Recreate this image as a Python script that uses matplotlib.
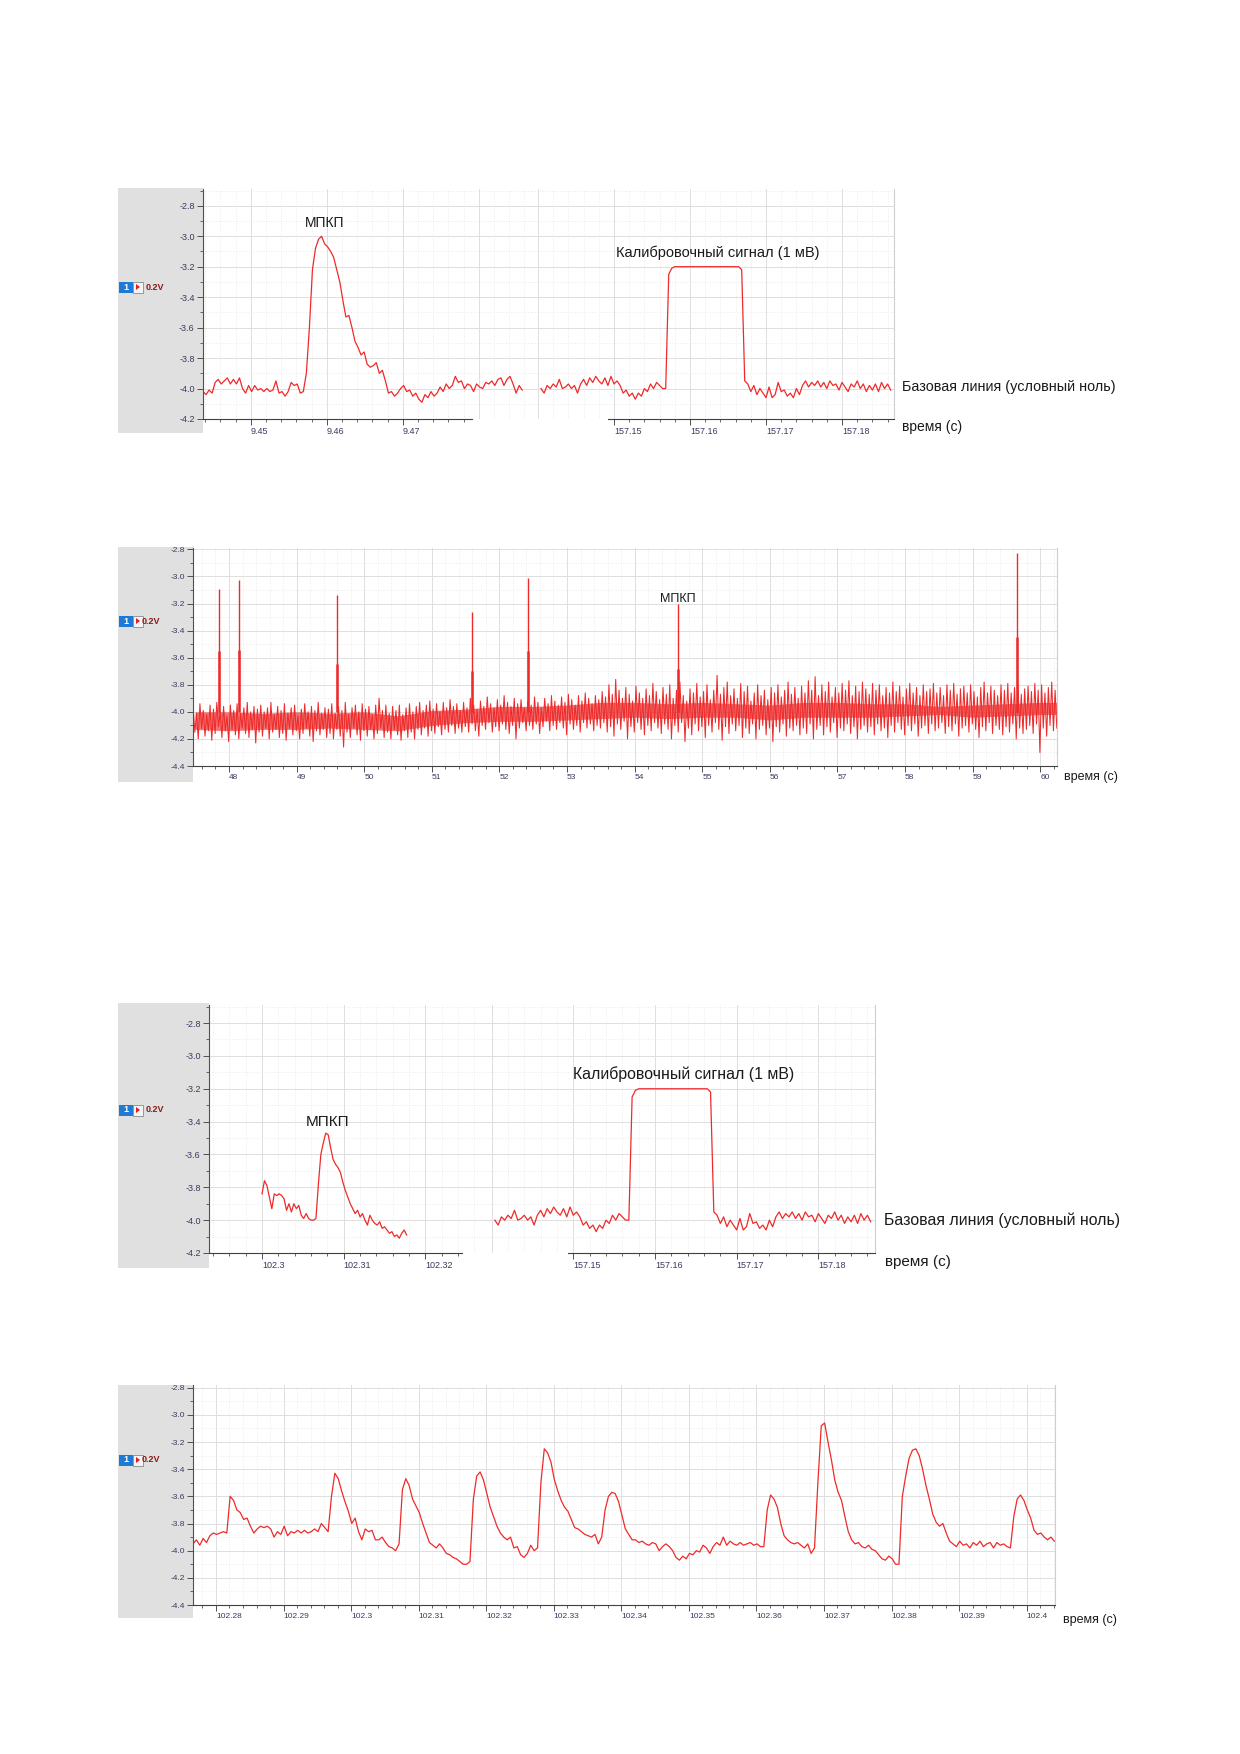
import numpy as np
import matplotlib
matplotlib.use("Agg")
import matplotlib.pyplot as plt
from matplotlib.patches import Rectangle, Polygon

W, H = 1240, 1754

# --- panel 1, left: single MEPP (s, V), sampled every P1_DT
P1_T0, P1_DT = 9.4437, 0.0004
p1_mepp = [
    -4.02, -4.04, -4.01, -4.03, -3.96, -3.94, -3.97, -3.95, -3.93, -3.97,
    -3.94, -3.97, -3.93, -4.00, -4.03, -3.98, -4.02, -3.98, -4.01, -4.00,
    -4.02, -4.00, -4.02, -4.01, -3.95, -4.03, -4.02, -4.05, -4.02, -3.96,
    -3.98, -3.97, -4.03, -4.02, -3.90, -3.60, -3.22, -3.08, -3.02, -3.00,
    -3.05, -3.07, -3.10, -3.14, -3.22, -3.30, -3.42, -3.53, -3.52, -3.60,
    -3.69, -3.73, -3.78, -3.76, -3.84, -3.86, -3.85, -3.83, -3.90, -3.88,
    -3.95, -4.03, -4.02, -4.05, -4.03, -4.00, -3.98, -4.02, -4.01, -4.05,
    -4.03, -4.07, -4.09, -4.04, -4.06, -4.02, -4.05, -4.03, -3.99, -4.02,
    -3.97, -4.00, -3.98, -3.92, -3.96, -3.95, -4.00, -3.97, -3.98, -4.02,
    -3.97, -3.99, -4.00, -3.96, -3.97, -3.95, -3.98, -3.94, -3.93, -3.98,
    -3.94, -3.92, -3.97, -4.03, -3.98, -4.01,
]

# --- calibration pulse (panels 1 and 3, right part)
CAL_T0, CAL_DT = 157.1404, 0.0004
cal_signal = [
    -4.00, -4.03, -3.98, -4.00, -3.97, -3.99, -3.94, -4.00, -3.99, -3.97,
    -4.00, -3.98, -4.03, -3.97, -3.94, -3.98, -3.93, -3.96, -3.92, -3.95,
    -3.97, -3.93, -3.98, -3.92, -3.97, -3.95, -3.98, -4.03, -4.01, -4.05,
    -4.03, -4.07, -4.03, -4.05, -4.00, -4.02, -3.97, -4.00, -3.96, -3.98,
    -4.00, -4.00, -3.25, -3.21, -3.20, -3.20, -3.20, -3.20, -3.20, -3.20,
    -3.20, -3.20, -3.20, -3.20, -3.20, -3.20, -3.20, -3.20, -3.20, -3.20,
    -3.20, -3.20, -3.20, -3.20, -3.20, -3.20, -3.22, -3.95, -3.97, -4.02,
    -3.98, -4.04, -4.00, -4.03, -4.06, -3.99, -4.06, -4.04, -3.96, -4.02,
    -4.01, -4.05, -4.03, -4.06, -4.00, -4.04, -3.98, -3.95, -3.99, -3.96,
    -3.98, -3.95, -3.99, -3.96, -4.00, -3.95, -3.98, -3.97, -4.01, -3.96,
    -3.99, -4.02, -3.97, -3.99, -3.95, -4.00, -3.97, -4.02, -3.98, -4.01,
    -3.97, -4.02, -3.96, -4.00, -3.97, -4.01,
]

# --- panel 2: 13 s record, noise band read as peak / trough every 0.05 s
P2_T0, P2_DT = 47.47, 0.05
p2_peaks = [
    -3.97, -4.01, -3.94, -3.99, -4.02, -3.95, -3.98, -3.93, -4.00, -3.96,
    -4.03, -3.95, -3.99, -3.94, -4.01, -3.97, -3.93, -4.00, -3.96, -3.98,
    -3.95, -4.00, -3.97, -3.93, -4.02, -3.96, -3.99, -3.94, -4.01, -3.97,
    -3.95, -4.03, -3.98, -3.94, -4.00, -3.96, -3.99, -3.93, -4.01, -3.97,
    -3.98, -3.94, -4.01, -3.96, -3.99, -3.93, -4.02, -3.97, -3.95, -4.00,
    -3.94, -3.98, -3.96, -4.02, -3.95, -3.90, -3.99, -3.95, -4.01, -3.96,
    -3.99, -3.95, -4.02, -3.97, -3.94, -4.00, -3.96, -3.93, -3.99, -3.95,
    -3.92, -3.98, -3.94, -4.00, -3.93, -3.97, -3.91, -3.96, -3.94, -3.99,
    -3.93, -3.97, -3.90, -3.95, -3.98, -3.92, -3.96, -3.89, -3.94, -3.97,
    -3.91, -3.95, -3.88, -3.93, -3.96, -3.90, -3.94, -3.91, -3.97, -3.92,
    -3.95, -3.89, -3.93, -3.97, -3.90, -3.94, -3.88, -3.92, -3.95, -3.89,
    -3.93, -3.87, -3.91, -3.95, -3.88, -3.92, -3.86, -3.90, -3.94, -3.88,
    -3.91, -3.85, -3.89, -3.80, -3.87, -3.76, -3.84, -3.90, -3.82, -3.87,
    -3.92, -3.81, -3.86, -3.90, -3.83, -3.88, -3.79, -3.85, -3.91, -3.82,
    -3.87, -3.80, -3.90, -3.84, -3.78, -3.88, -3.92, -3.83, -3.86, -3.79,
    -3.89, -3.85, -3.80, -3.91, -3.84, -3.73, -3.87, -3.82, -3.78, -3.88,
    -3.83, -3.90, -3.79, -3.85, -3.81, -3.92, -3.86, -3.80, -3.88, -3.84,
    -3.91, -3.82, -3.86, -3.80, -3.89, -3.84, -3.78, -3.87, -3.82, -3.90,
    -3.81, -3.86, -3.77, -3.84, -3.74, -3.88, -3.80, -3.85, -3.78, -3.89,
    -3.82, -3.86, -3.79, -3.84, -3.77, -3.88, -3.81, -3.85, -3.78, -3.83,
    -3.87, -3.79, -3.84, -3.80, -3.88, -3.82, -3.86, -3.78, -3.85, -3.81,
    -3.89, -3.83, -3.79, -3.86, -3.82, -3.88, -3.80, -3.85, -3.83, -3.79,
    -3.86, -3.82, -3.88, -3.80, -3.84, -3.79, -3.87, -3.83, -3.81, -3.86,
    -3.80, -3.85, -3.89, -3.82, -3.78, -3.86, -3.81, -3.84, -3.88, -3.80,
    -3.84, -3.79, -3.86, -3.82, -3.80, -3.87, -3.83, -3.81, -3.85, -3.79,
    -3.84, -3.80, -3.86, -3.82, -3.78, -3.84,
]
p2_troughs = [
    -4.15, -4.20, -4.12, -4.18, -4.14, -4.21, -4.16, -4.11, -4.19, -4.14,
    -4.22, -4.13, -4.17, -4.20, -4.12, -4.16, -4.19, -4.13, -4.23, -4.15,
    -4.18, -4.12, -4.20, -4.15, -4.13, -4.19, -4.16, -4.21, -4.12, -4.17,
    -4.14, -4.20, -4.16, -4.12, -4.18, -4.22, -4.14, -4.17, -4.13, -4.19,
    -4.16, -4.20, -4.13, -4.18, -4.26, -4.15, -4.19, -4.12, -4.17, -4.21,
    -4.14, -4.18, -4.13, -4.20, -4.16, -4.12, -4.19, -4.15, -4.20, -4.13,
    -4.17, -4.21, -4.14, -4.19, -4.15, -4.20, -4.13, -4.17, -4.12, -4.18,
    -4.14, -4.16, -4.11, -4.17, -4.13, -4.15, -4.10, -4.16, -4.12, -4.15,
    -4.11, -4.15, -4.09, -4.14, -4.18, -4.10, -4.13, -4.08, -4.15, -4.11,
    -4.14, -4.09, -4.13, -4.16, -4.10, -4.20, -4.12, -4.08, -4.14, -4.10,
    -4.13, -4.09, -4.16, -4.11, -4.07, -4.14, -4.10, -4.13, -4.08, -4.12,
    -4.17, -4.09, -4.13, -4.10, -4.15, -4.08, -4.12, -4.09, -4.14, -4.10,
    -4.12, -4.08, -4.15, -4.11, -4.18, -4.09, -4.13, -4.07, -4.20, -4.11,
    -4.15, -4.08, -4.13, -4.17, -4.10, -4.14, -4.08, -4.12, -4.16, -4.09,
    -4.13, -4.20, -4.10, -4.15, -4.08, -4.22, -4.12, -4.17, -4.09, -4.14,
    -4.11, -4.19, -4.10, -4.15, -4.08, -4.13, -4.21, -4.11, -4.16, -4.09,
    -4.14, -4.10, -4.19, -4.12, -4.16, -4.09, -4.20, -4.13, -4.10, -4.17,
    -4.12, -4.22, -4.11, -4.15, -4.09, -4.18, -4.12, -4.14, -4.10, -4.17,
    -4.12, -4.16, -4.09, -4.20, -4.13, -4.10, -4.17, -4.11, -4.15, -4.08,
    -4.19, -4.12, -4.14, -4.09, -4.16, -4.11, -4.20, -4.13, -4.10, -4.15,
    -4.11, -4.17, -4.09, -4.14, -4.12, -4.19, -4.10, -4.15, -4.08, -4.13,
    -4.17, -4.10, -4.14, -4.09, -4.18, -4.12, -4.10, -4.16, -4.09, -4.14,
    -4.12, -4.08, -4.16, -4.11, -4.14, -4.09, -4.18, -4.12, -4.10, -4.15,
    -4.09, -4.13, -4.19, -4.11, -4.14, -4.08, -4.16, -4.10, -4.13, -4.17,
    -4.11, -4.15, -4.09, -4.20, -4.12, -4.16, -4.13, -4.10, -4.16, -4.09,
    -4.30, -4.12, -4.18, -4.10, -4.14, -4.12,
]
# dense core of the band, every 0.5 s
p2_core_t = [47.5, 48.0, 48.5, 49.0, 49.5, 50.0, 50.5, 51.0, 51.5, 52.0, 52.5,
             53.0, 53.5, 54.0, 54.5, 55.0, 55.5, 56.0, 56.5, 57.0, 57.5, 58.0,
             58.5, 59.0, 59.5, 60.0, 60.5]
p2_core_hi = [-4.00, -4.00, -4.01, -4.00, -4.01, -4.00, -4.03, -3.99, -3.98, -3.96,
              -3.96, -3.95, -3.93, -3.93, -3.94, -3.93, -3.94, -3.95, -3.93, -3.93,
              -3.94, -3.94, -3.96, -3.95, -3.94, -3.93, -3.93]
p2_core_lo = [-4.13, -4.14, -4.13, -4.13, -4.12, -4.13, -4.14, -4.10, -4.08, -4.07,
              -4.07, -4.06, -4.05, -4.04, -4.05, -4.04, -4.04, -4.06, -4.04, -4.04,
              -4.04, -4.03, -4.02, -4.04, -4.03, -4.02, -4.02]
# MEPP spikes
spike_t = [47.85, 48.15, 49.6, 51.6, 52.43, 54.64, 59.65]
spike_top = [-3.09, -3.03, -3.14, -3.26, -3.01, -3.20, -2.83]
spike_mid = [-3.55, -3.54, -3.65, -3.70, -3.55, -3.68, -3.45]

# --- panel 3, left: MEPP
P3_T0, P3_DT = 102.300, 0.0003
p3_mepp = [
    -3.84, -3.76, -3.79, -3.86, -3.93, -3.84, -3.85, -3.84, -3.85, -3.87,
    -3.94, -3.90, -3.95, -3.90, -3.93, -3.91, -3.97, -3.99, -3.96, -3.99,
    -4.00, -4.00, -3.99, -3.78, -3.60, -3.53, -3.47, -3.48, -3.56, -3.63,
    -3.66, -3.68, -3.71, -3.77, -3.82, -3.86, -3.90, -3.93, -3.96, -3.94,
    -3.98, -3.96, -4.00, -4.03, -3.97, -4.00, -4.02, -4.03, -4.01, -4.05,
    -4.04, -4.06, -4.08, -4.07, -4.10, -4.09, -4.11, -4.08, -4.06, -4.09,
]

# --- panel 4: MEPP train
P4_T0, P4_DT = 102.2766, 0.0005
p4_train = [
    -3.95, -3.92, -3.96, -3.91, -3.94, -3.89, -3.87, -3.88, -3.87, -3.86,
    -3.87, -3.60, -3.63, -3.70, -3.72, -3.77, -3.76, -3.82, -3.87, -3.84,
    -3.82, -3.83, -3.82, -3.84, -3.90, -3.86, -3.88, -3.82, -3.89, -3.86,
    -3.87, -3.85, -3.87, -3.85, -3.87, -3.86, -3.84, -3.86, -3.80, -3.83,
    -3.86, -3.60, -3.43, -3.47, -3.56, -3.64, -3.71, -3.80, -3.76, -3.86,
    -3.92, -3.84, -3.86, -3.85, -3.92, -3.92, -3.90, -3.94, -3.97, -3.98,
    -4.00, -3.95, -3.55, -3.47, -3.52, -3.62, -3.67, -3.72, -3.80, -3.87,
    -3.94, -3.96, -3.98, -3.95, -3.98, -4.02, -4.03, -4.05, -4.06, -4.08,
    -4.10, -4.10, -4.08, -3.62, -3.45, -3.42, -3.48, -3.58, -3.68, -3.75,
    -3.82, -3.87, -3.90, -3.92, -3.90, -3.98, -3.97, -4.03, -4.05, -4.02,
    -3.96, -4.00, -3.98, -3.50, -3.25, -3.28, -3.35, -3.48, -3.56, -3.63,
    -3.68, -3.71, -3.77, -3.83, -3.84, -3.86, -3.88, -3.89, -3.90, -3.88,
    -3.95, -3.90, -3.70, -3.60, -3.57, -3.58, -3.64, -3.74, -3.84, -3.88,
    -3.92, -3.92, -3.94, -3.93, -3.95, -3.96, -3.94, -3.95, -4.00, -3.97,
    -3.95, -3.97, -4.00, -4.05, -4.07, -4.04, -4.06, -4.02, -4.03, -4.00,
    -4.01, -3.96, -3.98, -4.02, -3.97, -3.94, -3.96, -3.90, -3.96, -3.93,
    -3.95, -3.96, -3.94, -3.96, -3.95, -3.94, -3.96, -3.95, -3.97, -3.97,
    -3.70, -3.59, -3.62, -3.68, -3.80, -3.89, -3.92, -3.94, -3.95, -3.94,
    -3.96, -3.98, -3.95, -4.02, -3.98, -3.50, -3.08, -3.06, -3.20, -3.33,
    -3.48, -3.57, -3.63, -3.75, -3.86, -3.92, -3.95, -3.94, -3.97, -3.98,
    -3.96, -3.99, -4.00, -4.03, -4.06, -4.07, -4.04, -4.06, -4.10, -4.10,
    -3.60, -3.45, -3.32, -3.26, -3.25, -3.30, -3.40, -3.52, -3.62, -3.73,
    -3.79, -3.82, -3.80, -3.87, -3.93, -3.95, -3.97, -3.93, -3.96, -3.95,
    -3.98, -3.94, -3.96, -3.93, -3.97, -3.95, -3.94, -3.98, -3.94, -3.96,
    -3.95, -3.97, -3.98, -3.75, -3.62, -3.59, -3.63, -3.70, -3.76, -3.85,
    -3.88, -3.87, -3.90, -3.92, -3.90, -3.93,
]

TRACE = "#ee2a2a"
TXT = "#1a1a1a"
plt.rcParams["font.family"] = ["Liberation Sans", "DejaVu Sans"]


def px_rect(x0, y0, x1, y1):
    return [x0 / W, 1 - y1 / H, (x1 - x0) / W, (y1 - y0) / H]


def side_strip(fig, x0, y0, x1, y1, by, vx):
    fig.add_artist(Rectangle((x0 / W, 1 - y1 / H), (x1 - x0) / W, (y1 - y0) / H,
                             transform=fig.transFigure, facecolor="#e0e0e0",
                             edgecolor="none", zorder=-1))
    bx = 119
    fig.add_artist(Rectangle((bx / W, 1 - (by + 5.5) / H), 14 / W, 11 / H,
                             transform=fig.transFigure, facecolor="#1f7ad6",
                             edgecolor="none"))
    fig.text((bx + 7) / W, 1 - by / H, "1", color="white", fontsize=6.5,
             fontweight="bold", ha="center", va="center")
    fig.add_artist(Rectangle(((bx + 14) / W, 1 - (by + 5.5) / H), 10 / W, 11 / H,
                             transform=fig.transFigure, facecolor="#f4f4f4",
                             edgecolor="#8a8a8a", lw=0.6))
    tri = [((bx + 17) / W, 1 - (by - 3) / H), ((bx + 17) / W, 1 - (by + 3) / H),
           ((bx + 21) / W, 1 - by / H)]
    fig.add_artist(Polygon(tri, closed=True, transform=fig.transFigure,
                           facecolor="#e02020", edgecolor="none"))
    fig.text(vx / W, 1 - by / H, "0.2V", color="#8b1a1a", fontsize=6.5,
             fontweight="bold", ha="left", va="center")


def setup(ax, xlim, ylim, xmaj, xmin_, ymaj, ymin_, show_y=True, fs=6.5):
    ax.set_xticks(xmaj)
    ax.set_xticks(xmin_, minor=True)
    ax.set_yticks(ymaj)
    ax.set_yticks(ymin_, minor=True)
    ax.set_xticklabels(["%g" % v for v in xmaj])
    ax.set_yticklabels(["%.1f" % v for v in ymaj])
    # limits after the ticks, so set_xticks cannot widen them
    ax.set_xlim(*xlim)
    ax.set_ylim(*ylim)
    ax.grid(which="major", color="#dedede", lw=0.7)
    ax.grid(which="minor", color="#e6e6e6", lw=0.6, ls=(0, (1, 2)))
    ax.set_axisbelow(True)
    ax.tick_params(which="both", direction="out", colors="#505050",
                   labelcolor="#3a3a60", labelsize=fs, pad=2)
    ax.tick_params(which="major", length=4, width=0.7)
    ax.tick_params(which="minor", length=2.5, width=0.6)
    ax.spines["top"].set_visible(False)
    ax.spines["right"].set_color("#cfcfcf")
    ax.spines["left"].set_color("#505050")
    ax.spines["bottom"].set_color("#404040")
    if not show_y:
        ax.spines["left"].set_visible(False)
        ax.tick_params(axis="y", which="both", left=False, labelleft=False)
    for lab in ax.get_xticklabels():
        lab.set_ha("left")


def clip_x(ax, lo, hi):
    for tk in ax.xaxis.get_major_ticks() + ax.xaxis.get_minor_ticks():
        if not (lo - 1e-9 <= tk.get_loc() <= hi + 1e-9):
            tk.tick1line.set_visible(False)
            tk.label1.set_visible(False)
    ax.spines["bottom"].set_bounds(lo, hi)


def trace(ax, t0, dt, values, lw=0.9):
    t = t0 + dt * np.arange(len(values))
    ax.plot(t, values, color=TRACE, lw=lw, solid_joinstyle="round")


fig = plt.figure(figsize=(W / 100, H / 100), dpi=100)

y_short = np.round(np.arange(-4.2, -2.79, 0.2), 1)
y_short_m = np.round(np.arange(-4.2, -2.69, 0.1), 1)
y_long = np.round(np.arange(-4.4, -2.79, 0.2), 1)
y_long_m = np.round(np.arange(-4.4, -2.79, 0.1), 1)
cal_maj = [157.14, 157.15, 157.16, 157.17, 157.18]
cal_min = np.round(np.arange(157.14, 157.187, 0.002), 3)

# ---------------- panel 1
side_strip(fig, 118, 188, 203, 433, 287, 146)
a = fig.add_axes(px_rect(203, 189, 532, 419))
setup(a, (9.4437, 9.48699), (-4.2, -2.69), [9.45, 9.46, 9.47, 9.48],
      np.round(np.arange(9.444, 9.4869, 0.002), 3), y_short, y_short_m)
a.spines["right"].set_visible(False)
clip_x(a, 9.4437, 9.4791)
trace(a, P1_T0, P1_DT, p1_mepp)
a.text(9.4597, -2.91, "МПКП", ha="center", va="center", fontsize=10, color=TXT)

b = fig.add_axes(px_rect(532, 189, 894, 419))
setup(b, (157.13921, 157.18684), (-4.2, -2.69), cal_maj, cal_min,
      y_short, y_short_m, show_y=False)
clip_x(b, 157.1492, 157.18684)
trace(b, CAL_T0, CAL_DT, cal_signal)
b.text(157.1636, -3.11, "Калибровочный сигнал (1 мВ)", ha="center", va="center",
       fontsize=10.5, color=TXT)
fig.text(902 / W, 1 - 387 / H, "Базовая линия (условный ноль)", fontsize=10.4,
         va="center", color=TXT)
fig.text(902 / W, 1 - 427 / H, "время (с)", fontsize=10, va="center", color=TXT)

# ---------------- panel 2
side_strip(fig, 118, 547, 193, 782, 621, 142)
c = fig.add_axes(px_rect(193, 548, 1057, 766))
setup(c, (47.4675, 60.248), (-4.4, -2.79), list(range(48, 61)),
      np.round(np.arange(47.6, 60.25, 0.2), 1), y_long, y_long_m, fs=6)
c.fill_between(p2_core_t, p2_core_lo, p2_core_hi, color=TRACE, alpha=0.65, lw=0)
t_pk = P2_T0 + P2_DT * np.arange(len(p2_peaks))
zig_t = np.empty(2 * len(p2_peaks))
zig_v = np.empty(2 * len(p2_peaks))
zig_t[0::2] = t_pk
zig_t[1::2] = t_pk + P2_DT / 2
zig_v[0::2] = p2_peaks
zig_v[1::2] = p2_troughs
c.plot(zig_t, zig_v, color=TRACE, lw=0.75)
c.vlines(spike_t, -4.0, spike_top, color=TRACE, lw=1.0)
c.vlines(spike_t, -4.0, spike_mid, color=TRACE, lw=1.8)
c.text(54.64, -3.17, "МПКП", ha="center", va="center", fontsize=9, color=TXT)
fig.text(1064 / W, 1 - 777 / H, "время (с)", fontsize=9, va="center", color=TXT)

# ---------------- panel 3
side_strip(fig, 118, 1003, 209, 1268, 1110, 146)
d = fig.add_axes(px_rect(209, 1005, 480, 1253))
setup(d, (102.29351, 102.32668), (-4.2, -2.69), [102.3, 102.31, 102.32],
      np.round(np.arange(102.294, 102.3267, 0.002), 3), y_short, y_short_m)
d.spines["right"].set_visible(False)
clip_x(d, 102.29351, 102.3245)
trace(d, P3_T0, P3_DT, p3_mepp)
d.text(102.308, -3.40, "МПКП", ha="center", va="center", fontsize=11, color=TXT)

e = fig.add_axes(px_rect(480, 1005, 875, 1253))
setup(e, (157.13858, 157.18693), (-4.2, -2.69), cal_maj, cal_min,
      y_short, y_short_m, show_y=False)
clip_x(e, 157.14935, 157.18693)
trace(e, CAL_T0, CAL_DT, cal_signal)
e.text(157.1635, -3.112, "Калибровочный сигнал (1 мВ)", ha="center", va="center",
       fontsize=11.4, color=TXT)
fig.text(884 / W, 1 - 1220 / H, "Базовая линия (условный ноль)", fontsize=11.4,
         va="center", color=TXT)
fig.text(885 / W, 1 - 1262 / H, "время (с)", fontsize=11, va="center", color=TXT)

# ---------------- panel 4
side_strip(fig, 118, 1385, 193, 1618, 1460, 142)
f = fig.add_axes(px_rect(193, 1385, 1055, 1605))
setup(f, (102.2766, 102.4042), (-4.4, -2.78),
      np.round(np.arange(102.28, 102.405, 0.01), 2),
      np.round(np.arange(102.278, 102.4042, 0.002), 3), y_long, y_long_m, fs=6)
trace(f, P4_T0, P4_DT, p4_train)
fig.text(1063 / W, 1 - 1620 / H, "время (с)", fontsize=9, va="center", color=TXT)

fig.savefig("out.png", dpi=100, facecolor="white")
